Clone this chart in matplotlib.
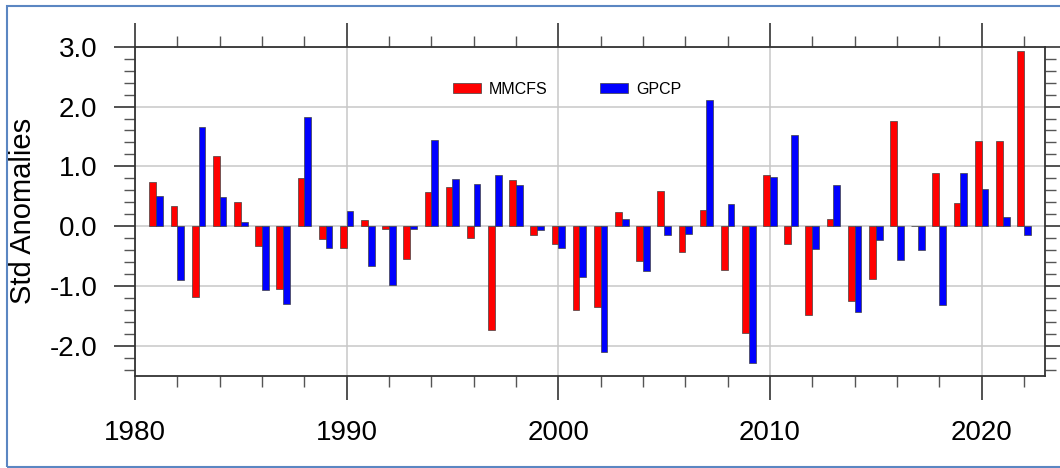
import numpy as np
import matplotlib.pyplot as plt
from matplotlib.patches import Rectangle
from matplotlib.ticker import MultipleLocator

plt.rcParams['font.family'] = ['Liberation Sans', 'DejaVu Sans']

# Standardised anomalies per year
years = list(range(1981, 2023))
mmcfs = [0.74, 0.34, -1.18, 1.18, 0.41, -0.33, -1.04, 0.81, -0.21, -0.37,
         0.10, -0.04, -0.54, 0.57, 0.66, -0.19, -1.74, 0.78, -0.15, -0.29,
         -1.39, -1.34, 0.24, -0.58, 0.59, -0.43, 0.28, -0.73, -1.79, 0.86,
         -0.29, -1.48, 0.12, -1.24, -0.88, 1.76, 0.0, 0.89, 0.39, 1.42,
         1.42, 2.92]
gpcp = [0.51, -0.89, 1.65, 0.49, 0.08, -1.07, -1.29, 1.83, -0.36, 0.26,
        -0.67, -0.98, -0.04, 1.44, 0.79, 0.70, 0.85, 0.69, -0.06, -0.37,
        -0.84, -2.10, 0.13, -0.74, -0.15, -0.13, 2.11, 0.37, -2.28, 0.82,
        1.53, -0.38, 0.69, -1.43, -0.23, -0.56, -0.39, -1.32, 0.89, 0.63,
        0.16, -0.14]

x = np.array(years)
w = 0.32

fig = plt.figure(figsize=(10.6, 4.68), dpi=100)
ax = fig.add_axes([0.1274, 0.1966, 0.8585, 0.7037])

ax.bar(x - w / 2, mmcfs, width=w, color='#ff0000', edgecolor='#404040',
       linewidth=0.5, label='MMCFS', zorder=3)
ax.bar(x + w / 2, gpcp, width=w, color='#0000ff', edgecolor='#404040',
       linewidth=0.5, label='GPCP', zorder=3)

ax.set_xlim(1980, 2023)
ax.set_ylim(-2.5, 3.0)
ax.xaxis.set_major_locator(MultipleLocator(10))
ax.xaxis.set_minor_locator(MultipleLocator(2))
ax.yaxis.set_major_locator(MultipleLocator(1))
ax.yaxis.set_minor_locator(MultipleLocator(0.2))
ax.yaxis.set_major_formatter(plt.FormatStrFormatter('%.1f'))

ax.grid(True, which='major', color='#c8c8c8', linewidth=1.1, zorder=0)
ax.set_axisbelow(True)

for s in ax.spines.values():
    s.set_color('#333333')
    s.set_linewidth(1.3)

ax.tick_params(axis='x', which='major', direction='out', length=17, width=1.2,
               color='#333333', top=True, labelsize=20, pad=15)
ax.tick_params(axis='x', which='minor', direction='out', length=8, width=1.0,
               color='#555555', top=True)
ax.tick_params(axis='y', which='major', direction='out', length=15, width=1.2,
               color='#333333', right=True, labelsize=20, pad=12)
ax.tick_params(axis='y', which='minor', direction='out', length=8, width=1.0,
               color='#555555', right=True)

ax.set_ylabel('Std Anomalies', fontsize=21)
ax.yaxis.set_label_coords(-0.108, 0.5)

ax.legend(loc='center left', bbox_to_anchor=(0.349, 0.871), ncol=2,
          frameon=False, fontsize=11.5, handlelength=1.75, handleheight=0.5,
          handletextpad=0.5, columnspacing=3.3, borderpad=0, borderaxespad=0)

# thin blue border round the picture
fig.patches.append(Rectangle((7 / 1060, 1.5 / 468), 1.1, 461 / 468,
                             transform=fig.transFigure, fill=False,
                             edgecolor='#5b86c2', linewidth=1.5))

fig.savefig('out.png', dpi=100)
